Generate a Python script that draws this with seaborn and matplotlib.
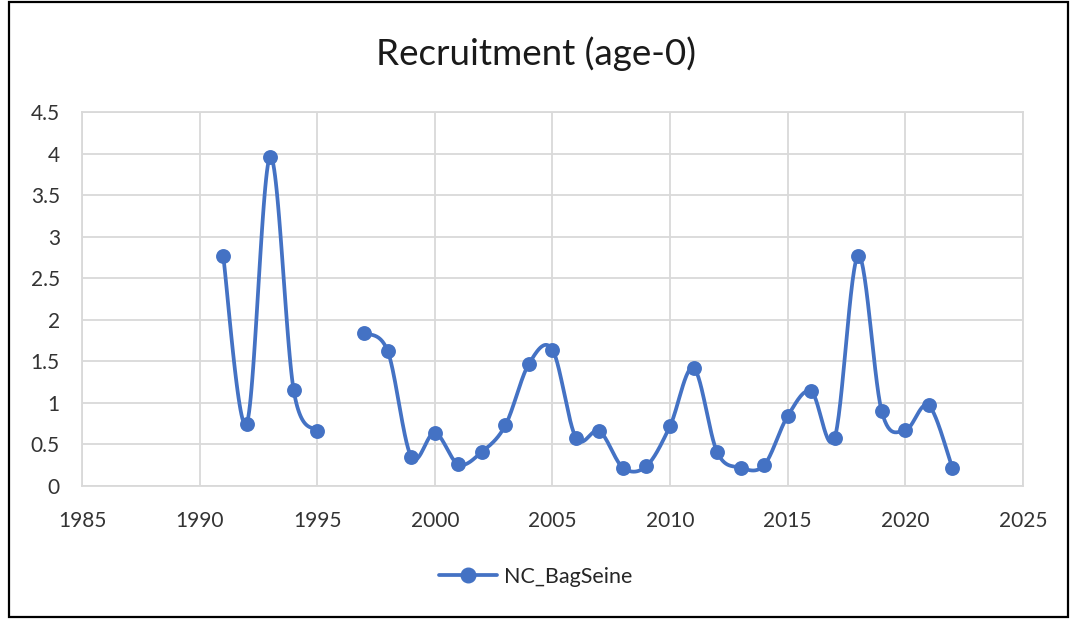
import numpy as np
import pandas as pd
import seaborn as sns
import matplotlib.pyplot as plt
from matplotlib.lines import Line2D
from matplotlib.patches import Rectangle

years = list(range(1991, 2023))
nc_bagseine = [2.77, 0.75, 3.96, 1.15, 0.66, np.nan, 1.84, 1.62, 0.35, 0.64,
               0.26, 0.41, 0.73, 1.47, 1.64, 0.58, 0.66, 0.22, 0.24, 0.72,
               1.42, 0.41, 0.22, 0.25, 0.84, 1.14, 0.58, 2.77, 0.90, 0.67,
               0.97, 0.22]
x_ticks = [1985, 1990, 1995, 2000, 2005, 2010, 2015, 2020, 2025]
y_ticks = [0, 0.5, 1, 1.5, 2, 2.5, 3, 3.5, 4, 4.5]

BLUE = "#4472C4"
GRID = "#D9D9D9"


def smooth_segment(x, y, steps=30):
    # excel-like smoothed line (catmull-rom as cubic bezier), drawing only
    x = np.asarray(x, float)
    y = np.asarray(y, float)
    if len(x) < 2:
        return x, y
    px = np.concatenate([[x[0]], x, [x[-1]]])
    py = np.concatenate([[y[0]], y, [y[-1]]])
    xs, ys = [], []
    t = np.linspace(0, 1, steps)
    for i in range(1, len(px) - 2):
        p0 = np.array([px[i], py[i]])
        p3 = np.array([px[i + 1], py[i + 1]])
        c1 = p0 + (np.array([px[i + 1], py[i + 1]]) - np.array([px[i - 1], py[i - 1]])) / 6
        c2 = p3 - (np.array([px[i + 2], py[i + 2]]) - np.array([px[i], py[i]])) / 6
        b = ((1 - t) ** 3)[:, None] * p0 + (3 * (1 - t) ** 2 * t)[:, None] * c1 \
            + (3 * (1 - t) * t ** 2)[:, None] * c2 + (t ** 3)[:, None] * p3
        xs.append(b[:, 0])
        ys.append(b[:, 1])
    return np.concatenate(xs), np.concatenate(ys)


sns.set_theme(style="white")
plt.rcParams["font.family"] = ["Lato", "DejaVu Sans"]

df = pd.DataFrame({"year": years, "value": nc_bagseine})

fig = plt.figure(figsize=(10.71, 6.19), dpi=100)
ax = fig.add_axes([0.0766, 0.2149, 0.8784, 0.6042])

# smoothed line, split at missing years
grp = df["value"].isna().cumsum()
for _, seg in df.dropna().groupby(grp[df["value"].notna()]):
    sx, sy = smooth_segment(seg["year"], seg["value"])
    ax.plot(sx, sy, color=BLUE, lw=2.7, solid_capstyle="round", zorder=3)

sns.scatterplot(data=df.dropna(), x="year", y="value", ax=ax, color=BLUE,
                s=115, edgecolor=BLUE, linewidth=0, zorder=4)

ax.set_xlim(1985, 2025)
ax.set_ylim(0, 4.5)
ax.set_xticks(x_ticks)
ax.set_yticks(y_ticks)
ax.set_yticklabels([f"{v:g}" for v in y_ticks])
ax.tick_params(axis="both", labelsize=15, colors="#333333", length=0)
ax.tick_params(axis="x", pad=18)
ax.tick_params(axis="y", pad=16)
ax.set_xlabel("")
ax.set_ylabel("")
ax.grid(True, color=GRID, lw=1.3)
for s in ax.spines.values():
    s.set_color(GRID)
    s.set_linewidth(1.3)

fig.text(0.5, 0.914, "Recruitment (age-0)", ha="center", va="center",
         fontsize=26.5, color="#1a1a1a")

handle = Line2D([], [], color=BLUE, lw=2.7, marker="o", markersize=10.5)
fig.legend([handle], ["NC_BagSeine"], loc="center", bbox_to_anchor=(0.5, 0.068),
           frameon=False, fontsize=15.5, handlelength=2.7, handletextpad=0.3)

fig.patches.append(Rectangle((0.008, 0.003), 0.989, 0.994, transform=fig.transFigure,
                             fill=False, edgecolor="black", lw=1.6))

fig.savefig("out.png", dpi=100)
